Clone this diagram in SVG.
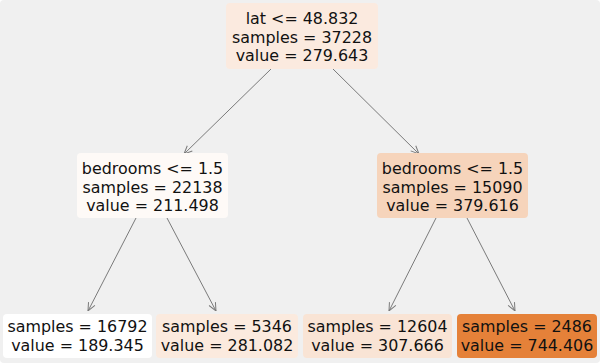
<svg xmlns="http://www.w3.org/2000/svg" width="600" height="363" viewBox="0 0 600 363">
<defs>
<style>
text{font-family:"DejaVu Sans",sans-serif;font-size:15.9px;fill:#111;text-anchor:middle}
.edge{stroke:#7a7a7a;stroke-width:1;fill:none;marker-end:url(#ah)}
rect{rx:4;ry:4}
</style>
<marker id="ah" viewBox="0 0 10 10" refX="10" refY="5" markerWidth="9" markerHeight="9" markerUnits="userSpaceOnUse" orient="auto">
<path d="M1,1 L10,5 L1,9" fill="none" stroke="#7a7a7a" stroke-width="1.1"/>
</marker>
</defs>
<rect x="0" y="0" width="600" height="363" fill="#f0f0f0" rx="0" ry="0"/>
<g id="edges">
<line class="edge" x1="271" y1="69" x2="184" y2="154"/>
<line class="edge" x1="333" y1="69" x2="419" y2="154"/>
<line class="edge" x1="136" y1="218" x2="88" y2="311"/>
<line class="edge" x1="167" y1="218" x2="216" y2="311"/>
<line class="edge" x1="436" y1="218" x2="389" y2="311"/>
<line class="edge" x1="467" y1="218" x2="515" y2="311"/>
</g>
<g id="root">
<rect x="226" y="3" width="152" height="66" fill="#fbeadf"/>
<text x="302" y="24">lat &lt;= 48.832</text>
<text x="302" y="42.5">samples = 37228</text>
<text x="302" y="61">value = 279.643</text>
</g>
<g id="left">
<rect x="77" y="153" width="151" height="65" fill="#fefaf7"/>
<text x="152.5" y="174">bedrooms &lt;= 1.5</text>
<text x="152.5" y="192.5">samples = 22138</text>
<text x="152.5" y="211">value = 211.498</text>
</g>
<g id="right">
<rect x="377" y="153" width="151" height="65" fill="#f6d4bb"/>
<text x="452.5" y="174">bedrooms &lt;= 1.5</text>
<text x="452.5" y="192.5">samples = 15090</text>
<text x="452.5" y="211">value = 379.616</text>
</g>
<g id="leaf1">
<rect x="3" y="314" width="149" height="44" fill="#ffffff"/>
<text x="77.5" y="332">samples = 16792</text>
<text x="77.5" y="350.5">value = 189.345</text>
</g>
<g id="leaf2">
<rect x="156" y="314" width="142" height="44" fill="#fbeade"/>
<text x="227" y="332">samples = 5346</text>
<text x="227" y="350.5">value = 281.082</text>
</g>
<g id="leaf3">
<rect x="303" y="314" width="149" height="44" fill="#f9e4d5"/>
<text x="377.5" y="332">samples = 12604</text>
<text x="377.5" y="350.5">value = 307.666</text>
</g>
<g id="leaf4">
<rect x="457" y="314" width="140" height="44" fill="#e58139"/>
<text x="527" y="332">samples = 2486</text>
<text x="527" y="350.5">value = 744.406</text>
</g>
</svg>
